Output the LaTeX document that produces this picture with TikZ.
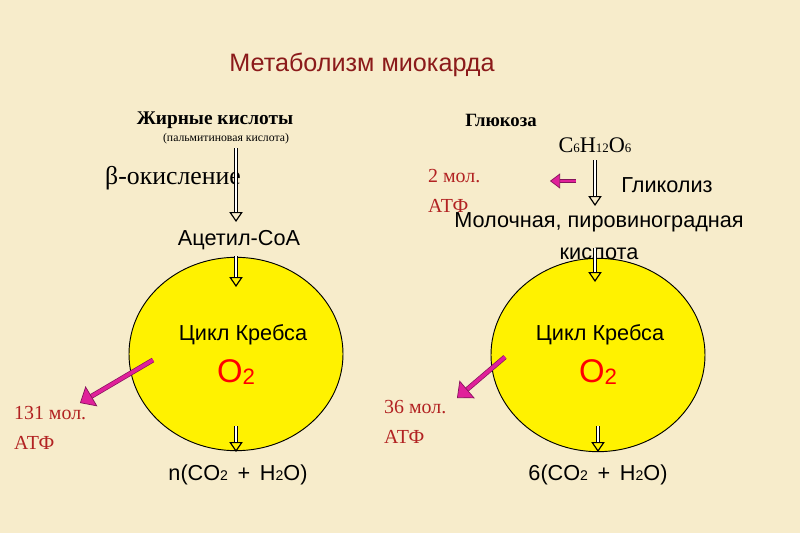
\documentclass[tikz,border=0pt]{standalone}
\usepackage{fontspec}
\setmainfont{Liberation Serif}
\newfontfamily\arial{Liberation Sans}
\usetikzlibrary{arrows.meta,shapes.geometric}
\definecolor{paper}{HTML}{F7ECCB}
\definecolor{titlered}{HTML}{8B1A1A}
\definecolor{atfred}{HTML}{B22222}
\definecolor{pinkarrow}{HTML}{E0209A}
\tikzstyle{blockarrow}=[draw=black, double=white, double distance=2pt, line width=1pt, -{Triangle[open, length=3mm, width=4mm]}]
\tikzstyle{pinkarrow}=[draw=pinkarrow!60!black, double=pinkarrow, double distance=3pt, line width=0.6pt, -{Triangle[fill=pinkarrow, length=4mm, width=7mm]}]
\tikzstyle{cycle}=[ellipse, draw=black, line width=0.8pt, fill=yellow, minimum width=6.42cm, minimum height=5.8cm]
\begin{document}
\begin{tikzpicture}[x=0.03cm, y=-0.03cm]
		   \begin{scope}
			   \fill[paper] (0,0) rectangle (800,533);
			   \node (title) at (362,65)[text=titlered, font=\arial\fontsize{21.5}{24}\selectfont] {Метаболизм миокарда};
			   \node (fat) at (215,120)[font=\bfseries\fontsize{16.5}{18}\selectfont] {Жирные кислоты};
			   \node (palm) at (226,139)[font=\fontsize{10}{11}\selectfont] {(пальмитиновая кислота)};
			   \node (glu) at (501,120)[font=\bfseries\fontsize{16}{18}\selectfont] {Глюкоза};
		   \end{scope}
		   \begin{scope}[font=\arial\fontsize{18.5}{22}\selectfont]
			   \node (L1) at (236,354)[cycle] {};
			   \node (R1) at (598,355)[cycle] {};
			   \node (Lk) at (243,335) {Цикл Кребса};
			   \node (Lo) at (236,372)[text=red, font=\arial\fontsize{28}{32}\selectfont] {O\raisebox{-0.1ex}{\fontsize{19}{22}\selectfont 2}};
			   \node (Rk) at (600,335) {Цикл Кребса};
			   \node (Ro) at (598,372)[text=red, font=\arial\fontsize{28}{32}\selectfont] {O\raisebox{-0.1ex}{\fontsize{19}{22}\selectfont 2}};

			   \node (beta) at (173,178)[font=\fontsize{22}{26}\selectfont] {β-окисление};
			   \node (acet) at (239,240) {Ацетил-СоА};
			   \node (Lout) at (238,475) {n(CO{\fontsize{12}{14}\selectfont 2} \,+\, H{\fontsize{12}{14}\selectfont 2}O)};
			   \node (Latf) at (10,428)[anchor=west, align=left, text=atfred, font=\fontsize{17}{25}\selectfont] {131 мол.\\АТФ};

			   \node (gl) at (595,145)[font=\fontsize{19}{22}\selectfont] {C{\fontsize{11}{13}\selectfont 6}H{\fontsize{11}{13}\selectfont 12}O{\fontsize{11}{13}\selectfont 6}};
			   \node (glyc) at (667,185) {Гликолиз};
			   \node (Ratf2) at (424,191)[anchor=west, align=left, text=atfred, font=\fontsize{17}{25}\selectfont] {2 мол.\\АТФ};
			   \node (lact) at (599,236)[align=center, font=\arial\fontsize{18.5}{27}\selectfont] {Молочная, пировиноградная\\кислота};
			   \node (Ratf) at (380,422)[anchor=west, align=left, text=atfred, font=\fontsize{17}{25}\selectfont] {36 мол.\\АТФ};
			   \node (Rout) at (598,475) {6(CO{\fontsize{12}{14}\selectfont 2} \,+\, H{\fontsize{12}{14}\selectfont 2}O)};

			   \coordinate (a1) at (236,148);
			   \coordinate (a2) at (236,222);
			   \coordinate (a3) at (236,256);
			   \coordinate (a4) at (236,287);
			   \coordinate (a5) at (236,426);
			   \coordinate (a6) at (236,452);
			   \coordinate (p1) at (153,360);
			   \coordinate (p2) at (80,403);
			   \coordinate (b1) at (595,160);
			   \coordinate (b2) at (595,206);
			   \coordinate (b3) at (595,248);
			   \coordinate (b4) at (595,282);
			   \coordinate (b5) at (598,426);
			   \coordinate (b6) at (598,452);
			   \coordinate (q1) at (505,357);
			   \coordinate (q2) at (457,398);
			   \coordinate (s1) at (576,181);
			   \coordinate (s2) at (550,181);
		   \end{scope}
		   \begin{scope}
			   \draw[blockarrow] (a1) -- (a2);
			   \draw[blockarrow] (a3) -- (a4);
			   \draw[blockarrow] (a5) -- (a6);
			   \draw[blockarrow] (b1) -- (b2);
			   \draw[blockarrow] (b3) -- (b4);
			   \draw[blockarrow] (b5) -- (b6);
			   \draw[pinkarrow] (p1) -- (p2);
			   \draw[pinkarrow] (q1) -- (q2);
			   \draw[pinkarrow, double distance=2pt, -{Triangle[fill=pinkarrow, length=3mm, width=4.5mm]}] (s1) -- (s2);
		   \end{scope}
	   \end{tikzpicture}
\end{document}
